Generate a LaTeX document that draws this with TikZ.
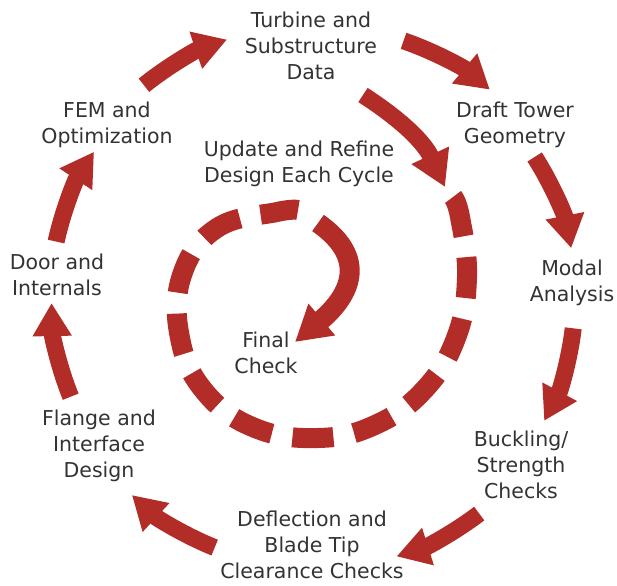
\documentclass[tikz,border=0pt]{standalone}
\usepackage{fontspec}
\setmainfont{DejaVu Sans}
\usetikzlibrary{arrows.meta,calc}
\definecolor{arrred}{HTML}{B22C28}
\definecolor{txt}{HTML}{333333}
\begin{document}
\begin{tikzpicture}[x=1pt,y=1pt,
  lbl/.style={font=\fontsize{20.5}{26}\selectfont, text=txt, align=center, inner sep=0pt},
  ring/.style={draw=arrred, line width=17pt, -{Triangle[length=33pt,width=37pt]}},
  spiralarr/.style={draw=arrred, line width=18pt, -{Triangle[length=35pt,width=39pt]}},
  spiraldash/.style={draw=arrred, line width=20pt, dash pattern=on 41pt off 21pt}]
\useasboundingbox (0,0) rectangle (617,-585);
\coordinate (O) at (315,-298);
% labels
\node[lbl] (turbine) at (311,-46) {Turbine and\\Substructure\\Data};
\node[lbl] (draft) at (515,-125) {Draft Tower\\Geometry};
\node[lbl] (modal) at (572,-283) {Modal\\Analysis};
\node[lbl] (buck) at (521,-465) {Buckling/\\Strength\\Checks};
\node[lbl] (defl) at (312,-545) {Deflection and\\Blade Tip\\Clearance Checks};
\node[lbl] (flange) at (99,-446) {Flange and\\Interface\\Design};
\node[lbl] (door) at (57,-275) {Door and\\Internals};
\node[lbl] (fem) at (107,-125) {FEM and\\Optimization};
\node[lbl] (update) at (299,-164) {Update and Refine\\Design Each Cycle};
\node[lbl] (final) at (266,-353) {Final\\Check};
% outer ring arrows
\draw[ring] ($(O)+(128.8:273)$) coordinate (a1) arc[start angle=128.8, end angle=108.8, radius=273];
\draw[ring] ($(O)+(71:272)$) coordinate (a2) arc[start angle=71, end angle=50, radius=272];
\draw[ring] ($(O)+(32.7:261)$) coordinate (a3) arc[start angle=32.7, end angle=11, radius=261];
\draw[ring] ($(O)+(-6.7:260)$) coordinate (a4) arc[start angle=-6.7, end angle=-28.2, radius=260];
\draw[ring] ($(O)+(-52.7:271)$) coordinate (a5) arc[start angle=-52.7, end angle=-72.5, radius=271];
\draw[ring] ($(O)+(-111.9:269)$) coordinate (a6) arc[start angle=-111.9, end angle=-132.9, radius=269];
\draw[ring] ($(O)+(-158:263.5)$) coordinate (a7) arc[start angle=-158, end angle=-178.9, radius=263.5];
\draw[ring] ($(O)+(-192.3:265)$) coordinate (a8) arc[start angle=-192.3, end angle=-213.5, radius=265];
% inner spiral
\coordinate (i1) at (363,-95);
\coordinate (i2) at (445,-187);
\draw[spiralarr, line width=17pt] (i1) to[out=-33,in=115] (i2);
\draw[spiraldash] plot[smooth, tension=0.7] coordinates {(453,-197) (460,-217) (467,-277) (456,-338) (424,-390) (375,-425) (318,-438) (255,-428) (205,-392) (180,-338) (182,-275) (217,-228) (277,-212) (298,-210)};
\coordinate (f1) at (318,-223);
\coordinate (f2) at (295,-342);
\draw[spiralarr, line width=20pt] (f1) to[out=-35,in=40,looseness=1.4] (f2);
\end{tikzpicture}
\end{document}
